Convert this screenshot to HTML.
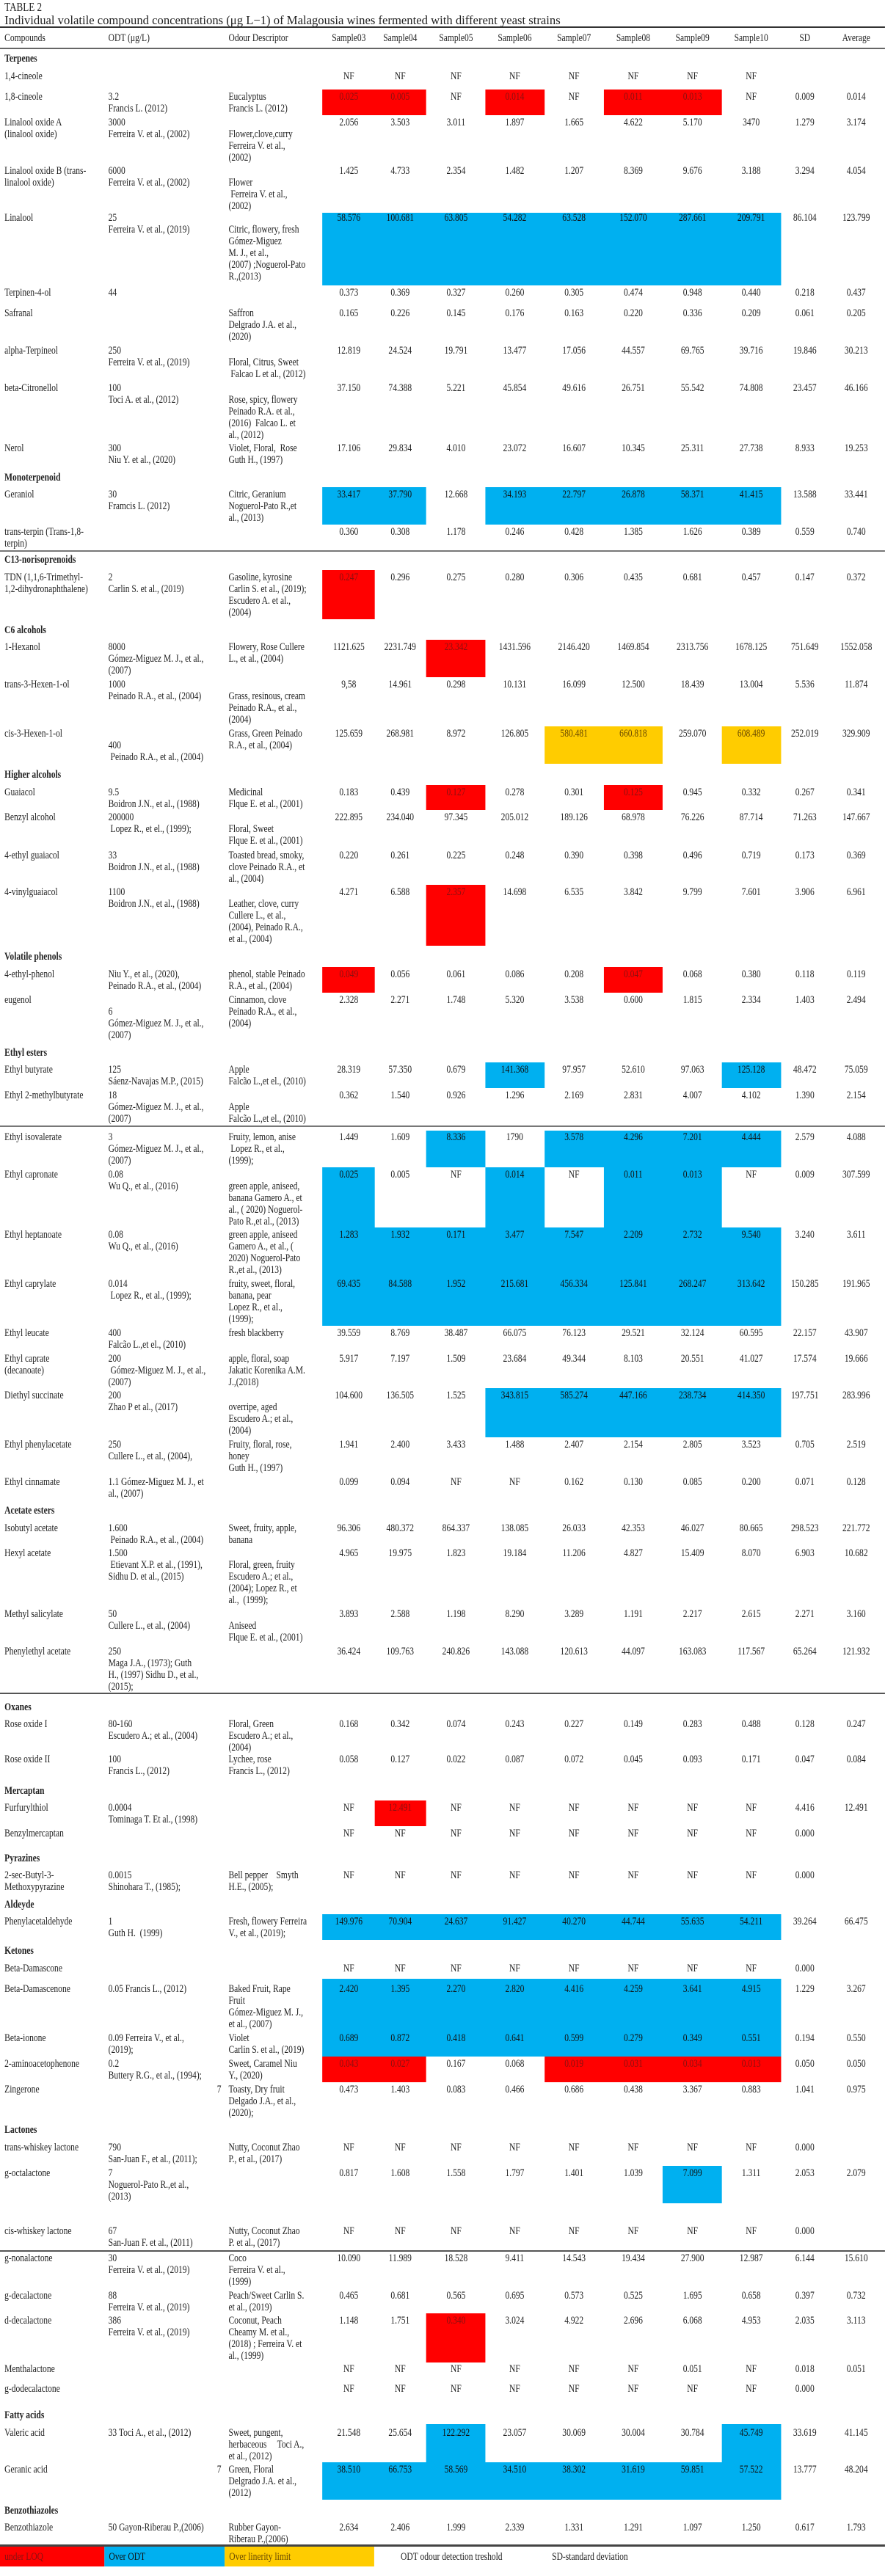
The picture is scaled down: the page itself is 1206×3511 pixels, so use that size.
<!DOCTYPE html>
<html><head><meta charset="utf-8">
<style>
html,body{margin:0;padding:0;background:#fff;}
body{width:1206px;height:3511px;overflow:hidden;position:relative;}
#wrap{position:absolute;left:0;top:0;width:1568px;height:3511px;transform:scaleX(0.7691);transform-origin:0 0;font-family:"Liberation Serif",serif;font-size:15px;line-height:16px;color:#222;}
.t{position:absolute;white-space:nowrap;}
.c{transform:translateX(-50%);text-align:center;}
.sec{font-weight:bold;}
.hl{position:absolute;}
.ln{position:absolute;left:0;width:1568px;}
</style></head>
<body>
<div id="wrap">
  <div class="t" id="t1" style="left:8px;top:1px;font-size:17px;line-height:18px;">TABLE 2</div>
  <div class="t" id="t2" style="left:8px;top:19px;font-size:17px;line-height:18px;transform-origin:0 0;">Individual volatile compound concentrations (μg L−1) of Malagousia wines fermented with different yeast strains</div>
  <div class="ln" style="top:36px;height:2px;background:#333;"></div>
  <div class="ln" style="top:65px;height:2px;background:#666;"></div>
</div>
<script>
const wrap=document.getElementById('wrap');
const centers=[618,709,808,912,1017,1122,1227,1331,1426,1517];
const bounds=[571,664,755,860,965,1070,1174,1279,1384];
const headers=['Sample03','Sample04','Sample05','Sample06','Sample07','Sample08','Sample09','Sample10','SD','Average'];
const colors={r:'#ff0000',b:'#00b0f0',y:'#ffcc00'};
const sections=[['Terpenes',80],['Monoterpenoid',651],['C13-norisoprenoids',763],['C6 alcohols',859],['Higher alcohols',1056],['Volatile phenols',1304],['Ethyl esters',1435],['Acetate esters',2059],['Oxanes',2327],['Mercaptan',2441],['Pyrazines',2533],['Aldeyde',2596],['Ketones',2659],['Lactones',2903],['Fatty acids',3292],['Benzothiazoles',3422]];
const rules=[[750,2,'#777'],[1534,2,'#777'],[2307,2,'#555'],[3067,2,'#555'],[3468,3,'#444']];
const highlights=[
[122,157,0,1,'r'],[122,157,3,3,'r'],[122,157,5,6,'r'],
[290,389,0,7,'b'],
[664,715,0,1,'b'],[664,715,3,7,'b'],
[777,844,0,0,'r'],
[872,923,2,2,'r'],
[990,1041,4,5,'y'],[990,1041,7,7,'y'],
[1070,1104,2,2,'r'],[1070,1104,5,5,'r'],
[1206,1289,2,2,'r'],
[1318,1353,0,0,'r'],[1318,1353,5,5,'r'],
[1448,1483,3,3,'b'],[1448,1483,7,7,'b'],
[1541,1591,2,2,'b'],[1541,1591,4,7,'b'],
[1591,1673,0,0,'b'],[1591,1673,3,3,'b'],[1591,1673,5,6,'b'],
[1673,1807,0,7,'b'],
[1892,1959,3,7,'b'],
[2454,2489,1,1,'r'],
[2609,2644,0,7,'b'],
[2697,2803,0,7,'b'],
[2803,2838,0,1,'r'],[2803,2838,4,7,'r'],
[2952,3003,6,6,'b'],
[3153,3220,2,2,'r'],
[3304,3356,2,2,'b'],[3304,3356,7,7,'b'],
[3356,3407,0,7,'b']
];
const NF8=['NF','NF','NF','NF','NF','NF','NF','NF'];
const rows=[
['1,4-cineole',104,'','',[...NF8,'','']],
['1,8-cineole',132,'3.2<br>Francis L. (2012)','Eucalyptus<br>Francis L. (2012)',['0.025','0.005','NF','0.014','NF','0.011','0.013','NF','0.009','0.014']],
['Linalool oxide A<br>(linalool oxide)',167,'3000<br>Ferreira V. et al., (2002)','<br>Flower,clove,curry<br>Ferreira V. et al.,<br>(2002)',['2.056','3.503','3.011','1.897','1.665','4.622','5.170','3470','1.279','3.174']],
['Linalool oxide B (trans-<br>linalool oxide)',233,'6000<br>Ferreira V. et al., (2002)','<br>Flower<br>&nbsp;Ferreira V. et al.,<br>(2002)',['1.425','4.733','2.354','1.482','1.207','8.369','9.676','3.188','3.294','4.054']],
['Linalool',297,'25<br>Ferreira V. et al., (2019)','<br>Citric, flowery, fresh<br>Gómez-Miguez<br>M. J., et al.,<br>(2007) ;Noguerol-Pato<br>R.,(2013)',['58.576','100.681','63.805','54.282','63.528','152.070','287.661','209.791','86.104','123.799']],
['Terpinen-4-ol',399,'44','',['0.373','0.369','0.327','0.260','0.305','0.474','0.948','0.440','0.218','0.437']],
['Safranal',427,'','Saffron<br>Delgrado J.A. et al.,<br>(2020)',['0.165','0.226','0.145','0.176','0.163','0.220','0.336','0.209','0.061','0.205']],
['alpha-Terpineol',478,'250<br>Ferreira V. et al., (2019)','<br>Floral, Citrus, Sweet<br>&nbsp;Falcao L et al., (2012)',['12.819','24.524','19.791','13.477','17.056','44.557','69.765','39.716','19.846','30.213']],
['beta-Citronellol',529,'100<br>Toci A. et al., (2012)','<br>Rose, spicy, flowery<br>Peinado R.A. et al.,<br>(2016)&nbsp; Falcao L. et<br>al., (2012)',['37.150','74.388','5.221','45.854','49.616','26.751','55.542','74.808','23.457','46.166']],
['Nerol',611,'300<br>Niu Y. et al., (2020)','Violet, Floral,&nbsp; Rose<br>Guth H., (1997)',['17.106','29.834','4.010','23.072','16.607','10.345','25.311','27.738','8.933','19.253']],
['Geraniol',674,'30<br>Framcis L. (2012)','Citric, Geranium<br>Noguerol-Pato R.,et<br>al., (2013)',['33.417','37.790','12.668','34.193','22.797','26.878','58.371','41.415','13.588','33.441']],
['trans-terpin (Trans-1,8-<br>terpin)',725,'','',['0.360','0.308','1.178','0.246','0.428','1.385','1.626','0.389','0.559','0.740']],
['TDN (1,1,6-Trimethyl-<br>1,2-dihydronaphthalene)',787,'2<br>Carlin S. et al., (2019)','Gasoline, kyrosine<br>Carlin S. et al., (2019);<br>Escudero A. et al.,<br>(2004)',['0.247','0.296','0.275','0.280','0.306','0.435','0.681','0.457','0.147','0.372']],
['1-Hexanol',882,'8000<br>Gómez-Miguez M. J., et al.,<br>(2007)','Flowery, Rose Cullere<br>L., et al., (2004)',['1121.625','2231.749','23.342','1431.596','2146.420','1469.854','2313.756','1678.125','751.649','1552.058']],
['trans-3-Hexen-1-ol',933,'1000<br>Peinado R.A., et al., (2004)','<br>Grass, resinous, cream<br>Peinado R.A., et al.,<br>(2004)',['9,58','14.961','0.298','10.131','16.099','12.500','18.439','13.004','5.536','11.874']],
['cis-3-Hexen-1-ol',1000,'<br>400<br>&nbsp;Peinado R.A., et al., (2004)','Grass, Green Peinado<br>R.A., et al., (2004)',['125.659','268.981','8.972','126.805','580.481','660.818','259.070','608.489','252.019','329.909']],
['Guaiacol',1080,'9.5<br>Boidron J.N., et al., (1988)','Medicinal<br>Flque E. et al., (2001)',['0.183','0.439','0.127','0.278','0.301','0.125','0.945','0.332','0.267','0.341']],
['Benzyl alcohol',1114,'200000<br>&nbsp;Lopez R., et el., (1999);','<br>Floral, Sweet<br>Flque E. et al., (2001)',['222.895','234.040','97.345','205.012','189.126','68.978','76.226','87.714','71.263','147.667']],
['4-ethyl guaiacol',1166,'33<br>Boidron J.N., et al., (1988)','Toasted bread, smoky,<br>clove Peinado R.A., et<br>al., (2004)',['0.220','0.261','0.225','0.248','0.390','0.398','0.496','0.719','0.173','0.369']],
['4-vinylguaiacol',1216,'1100<br>Boidron J.N., et al., (1988)','<br>Leather, clove, curry<br>Cullere L., et al.,<br>(2004), Peinado R.A.,<br>et al., (2004)',['4.271','6.588','2.357','14.698','6.535','3.842','9.799','7.601','3.906','6.961']],
['4-ethyl-phenol',1328,'Niu Y., et al., (2020),<br>Peinado R.A., et al., (2004)','phenol, stable Peinado<br>R.A., et al., (2004)',['0.049','0.056','0.061','0.086','0.208','0.047','0.068','0.380','0.118','0.119']],
['eugenol',1363,'<br>6<br>Gómez-Miguez M. J., et al.,<br>(2007)','Cinnamon, clove<br>Peinado R.A., et al.,<br>(2004)',['2.328','2.271','1.748','5.320','3.538','0.600','1.815','2.334','1.403','2.494']],
['Ethyl butyrate',1458,'125<br>Sáenz-Navajas M.P., (2015)','Apple<br>Falcão L.,et el., (2010)',['28.319','57.350','0.679','141.368','97.957','52.610','97.063','125.128','48.472','75.059']],
['Ethyl 2-methylbutyrate',1493,'18<br>Gómez-Miguez M. J., et al.,<br>(2007)','<br>Apple<br>Falcão L.,et el., (2010)',['0.362','1.540','0.926','1.296','2.169','2.831','4.007','4.102','1.390','2.154']],
['Ethyl isovalerate',1550,'3<br>Gómez-Miguez M. J., et al.,<br>(2007)','Fruity, lemon, anise<br>&nbsp;Lopez R., et al.,<br>(1999);',['1.449','1.609','8.336','1790','3.578','4.296','7.201','4.444','2.579','4.088']],
['Ethyl capronate',1601,'0.08<br>Wu Q., et al., (2016)','<br>green apple, aniseed,<br>banana Gamero A., et<br>al., ( 2020) Noguerol-<br>Pato R.,et al., (2013)',['0.025','0.005','NF','0.014','NF','0.011','0.013','NF','0.009','307.599']],
['Ethyl heptanoate',1683,'0.08<br>Wu Q., et al., (2016)','green apple, aniseed<br>Gamero A., et al., (<br>2020) Noguerol-Pato<br>R.,et al., (2013)',['1.283','1.932','0.171','3.477','7.547','2.209','2.732','9.540','3.240','3.611']],
['Ethyl caprylate',1750,'0.014<br>&nbsp;Lopez R., et al., (1999);','fruity, sweet, floral,<br>banana, pear<br>Lopez R., et al.,<br>(1999);',['69.435','84.588','1.952','215.681','456.334','125.841','268.247','313.642','150.285','191.965']],
['Ethyl leucate',1817,'400<br>Falcão L.,et el., (2010)','fresh blackberry',['39.559','8.769','38.487','66.075','76.123','29.521','32.124','60.595','22.157','43.907']],
['Ethyl caprate<br>(decanoate)',1852,'200<br>&nbsp;Gómez-Miguez M. J., et al.,<br>(2007)','apple, floral, soap<br>Jakatic Korenika A.M.<br>J.,(2018)',['5.917','7.197','1.509','23.684','49.344','8.103','20.551','41.027','17.574','19.666']],
['Diethyl succinate',1902,'200<br>Zhao P et al., (2017)','<br>overripe, aged<br>Escudero A.; et al.,<br>(2004)',['104.600','136.505','1.525','343.815','585.274','447.166','238.734','414.350','197.751','283.996']],
['Ethyl phenylacetate',1969,'250<br>Cullere L., et al., (2004),','Fruity, floral, rose,<br>honey<br>Guth H., (1997)',['1.941','2.400','3.433','1.488','2.407','2.154','2.805','3.523','0.705','2.519']],
['Ethyl cinnamate',2020,'1.1 Gómez-Miguez M. J., et<br>al., (2007)','',['0.099','0.094','NF','NF','0.162','0.130','0.085','0.200','0.071','0.128']],
['Isobutyl acetate',2083,'1.600<br>&nbsp;Peinado R.A., et al., (2004)','Sweet, fruity, apple,<br>banana',['96.306','480.372','864.337','138.085','26.033','42.353','46.027','80.665','298.523','221.772']],
['Hexyl acetate',2117,'1.500<br>&nbsp;Etievant X.P. et al., (1991),<br>Sidhu D. et al., (2015)','<br>Floral, green, fruity<br>Escudero A.; et al.,<br>(2004); Lopez R., et<br>al.,&nbsp; (1999);',['4.965','19.975','1.823','19.184','11.206','4.827','15.409','8.070','6.903','10.682']],
['Methyl salicylate',2200,'50<br>Cullere L., et al., (2004)','<br>Aniseed<br>Flque E. et al., (2001)',['3.893','2.588','1.198','8.290','3.289','1.191','2.217','2.615','2.271','3.160']],
['Phenylethyl acetate',2251,'250<br>Maga J.A., (1973); Guth<br>H., (1997) Sidhu D., et al.,<br>(2015);','',['36.424','109.763','240.826','143.088','120.613','44.097','163.083','117.567','65.264','121.932']],
['Rose oxide I',2350,'80-160<br>Escudero A.; et al., (2004)','Floral, Green<br>Escudero A.; et al.,<br>(2004)',['0.168','0.342','0.074','0.243','0.227','0.149','0.283','0.488','0.128','0.247']],
['Rose oxide II',2398,'100<br>Francis L., (2012)','Lychee, rose<br>Francis L., (2012)',['0.058','0.127','0.022','0.087','0.072','0.045','0.093','0.171','0.047','0.084']],
['Furfurylthiol',2464,'0.0004<br>Tominaga T. Et al., (1998)','',['NF','12.491','NF','NF','NF','NF','NF','NF','4.416','12.491']],
['Benzylmercaptan',2499,'','',[...NF8,'0.000','']],
['2-sec-Butyl-3-<br>Methoxypyrazine',2556,'0.0015<br>Shinohara T., (1985);','Bell pepper&nbsp;&nbsp;&nbsp; Smyth<br>H.E., (2005);',[...NF8,'0.000','']],
['Phenylacetaldehyde',2619,'1<br>Guth H.&nbsp; (1999)','Fresh, flowery Ferreira<br>V., et al., (2019);',['149.976','70.904','24.637','91.427','40.270','44.744','55.635','54.211','39.264','66.475']],
['Beta-Damascone',2683,'','',[...NF8,'0.000','']],
['Beta-Damascenone',2711,'0.05 Francis L., (2012)','Baked Fruit, Rape<br>Fruit<br>Gómez-Miguez M. J.,<br>et al., (2007)',['2.420','1.395','2.270','2.820','4.416','4.259','3.641','4.915','1.229','3.267']],
['Beta-ionone',2778,'0.09 Ferreira V., et al.,<br>(2019);','Violet<br>Carlin S. et al., (2019)',['0.689','0.872','0.418','0.641','0.599','0.279','0.349','0.551','0.194','0.550']],
['2-aminoacetophenone',2813,'0.2<br>Buttery R.G., et al., (1994);','Sweet, Caramel Niu<br>Y., (2020)',['0.043','0.027','0.167','0.068','0.019','0.031','0.034','0.013','0.050','0.050']],
['Zingerone',2848,'R7','Toasty, Dry fruit<br>Delgado J.A., et al.,<br>(2020);',['0.473','1.403','0.083','0.466','0.686','0.438','3.367','0.883','1.041','0.975']],
['trans-whiskey lactone',2927,'790<br>San-Juan F., et al., (2011);','Nutty, Coconut Zhao<br>P., et al., (2017)',[...NF8,'0.000','']],
['g-octalactone',2962,'7<br>Noguerol-Pato R.,et al.,<br>(2013)','',['0.817','1.608','1.558','1.797','1.401','1.039','7.099','1.311','2.053','2.079']],
['cis-whiskey lactone',3041,'67<br>San-Juan F. et al., (2011)','Nutty, Coconut Zhao<br>P. et al., (2017)',[...NF8,'0.000','']],
['g-nonalactone',3078,'30<br>Ferreira V. et al., (2019)','Coco<br>Ferreira V. et al.,<br>(1999)',['10.090','11.989','18.528','9.411','14.543','19.434','27.900','12.987','6.144','15.610']],
['g-decalactone',3129,'88<br>Ferreira V. et al., (2019)','Peach/Sweet Carlin S.<br>et al., (2019)',['0.465','0.681','0.565','0.695','0.573','0.525','1.695','0.658','0.397','0.732']],
['d-decalactone',3163,'386<br>Ferreira V. et al., (2019)','Coconut, Peach<br>Cheamy M. et al.,<br>(2018) ; Ferreira V. et<br>al., (1999)',['1.148','1.751','0.340','3.024','4.922','2.696','6.068','4.953','2.035','3.113']],
['Menthalactone',3229,'','',['NF','NF','NF','NF','NF','NF','0.051','NF','0.018','0.051']],
['g-dodecalactone',3256,'','',[...NF8,'0.000','']],
['Valeric acid',3316,'33 Toci A., et al., (2012)','Sweet, pungent,<br>herbaceous&nbsp;&nbsp;&nbsp;&nbsp; Toci A.,<br>et al., (2012)',['21.548','25.654','122.292','23.057','30.069','30.004','30.784','45.749','33.619','41.145']],
['Geranic acid',3366,'R7','Green, Floral<br>Delgrado J.A. et al.,<br>(2012)',['38.510','66.753','58.569','34.510','38.302','31.619','59.851','57.522','13.777','48.204']],
['Benzothiazole',3445,'50 Gayon-Riberau P.,(2006)','Rubber Gayon-<br>Riberau P.,(2006)',['2.634','2.406','1.999','2.339','1.331','1.291','1.097','1.250','0.617','1.793']]
];
const legendLabels=['under LOQ','Over ODT','Over linerity limit'];
const legendKeys=['r','b','y'];

function txt(html,x,y,center){
  const d=document.createElement('div');
  d.className='t'+(center?' c':'');
  d.style.left=x+'px';d.style.top=(y-8)+'px';
  d.innerHTML=html;
  wrap.appendChild(d);
  return d;
}
// highlights first (behind text)
highlights.forEach(h=>{
  const d=document.createElement('div');
  d.className='hl';
  const x0=bounds[h[2]],x1=bounds[h[3]+1];
  d.style.left=x0+'px';d.style.width=(x1-x0)+'px';
  d.style.top=h[0]+'px';d.style.height=(h[1]-h[0])+'px';
  d.style.background=colors[h[4]];
  
  
  wrap.appendChild(d);
});
rules.forEach(r=>{
  const d=document.createElement('div');
  d.className='ln';d.style.top=r[0]+'px';d.style.height=r[1]+'px';d.style.background=r[2];
  
  
  wrap.appendChild(d);
});
// header
let h;
h=txt('Compounds',8,52,false);


h=txt('ODT (μg/L)',192,52,false);


h=txt('Odour Descriptor',405,52,false);


headers.forEach((s,i)=>{
  const e=txt(s,centers[i],52,true);
  
  
});
sections.forEach(s=>{
  const e=txt(s[0],8,s[1],false);
  e.classList.add('sec');
  
  
});
function cellColor(ci,y){
  for(const hh of highlights){ if(y>=hh[0]&&y<hh[1]&&ci>=hh[2]&&ci<=hh[3]) return hh[4]; }
  return null;
}
rows.forEach(r=>{
  const e=txt(r[0],8,r[1],false);
  
  
  if(r[2]){
    let o;
    if(r[2].startsWith('R')){ o=txt(r[2].slice(1),392,r[1],false); o.style.transform='translateX(-100%)'; }
    else o=txt(r[2],192,r[1],false);
    
    
  }
  if(r[3]){
    const d=txt(r[3],405,r[1],false);
    
    
  }
  r[4].forEach((v,i)=>{
    if(v==='') return;
    const c=txt(v,centers[i],r[1],true);
    const col=i<8?cellColor(i,r[1]):null;
    if(col==='r') c.style.color='#8a1010';
    if(col==='y') c.style.color='#6a4a00';
    if(col==='b') c.style.color='#111';
    
    
  });
});
// legend
const legX=[0,185,398,663];
legendKeys.forEach((k,i)=>{
  const d=document.createElement('div');
  d.className='hl';
  d.style.left=legX[i]+'px';d.style.width=(legX[i+1]-legX[i])+'px';
  d.style.top='3471px';d.style.height='27px';d.style.background=colors[k];
  
  
  wrap.appendChild(d);
  const t=txt(legendLabels[i],legX[i]+8,3485,false);
  t.style.color=k==='r'?'#8a1010':(k==='y'?'#6a4a00':'#111');
  
  
});
let lt=txt('ODT odour detection treshold',710,3485,false);


lt=txt('SD-standard deviation',978,3485,false);


// fit title width
const t2=document.getElementById('t2');
const w=t2.getBoundingClientRect().width/0.7691;
t2.style.transform='scaleX('+(985/w)+')';
</script>
</body></html>
